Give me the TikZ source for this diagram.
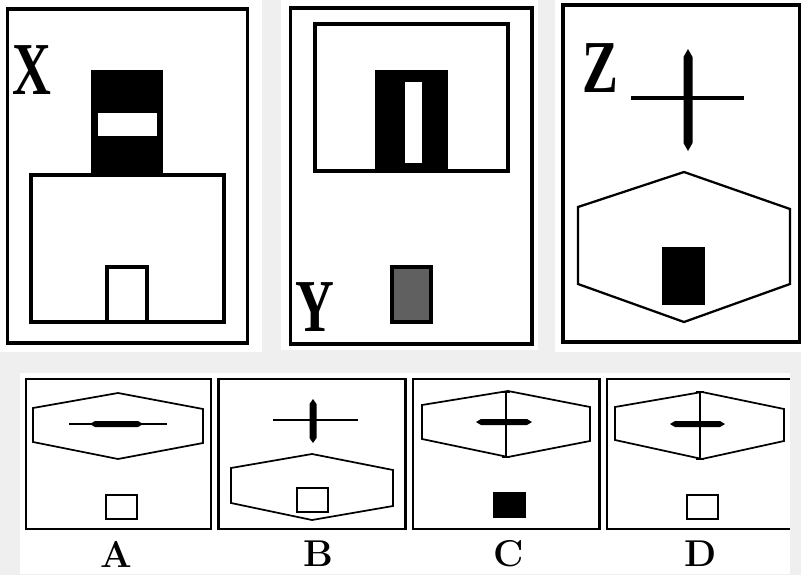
\documentclass[tikz,border=0pt]{standalone}
\usepackage{fontspec}
\newfontfamily\timesfont{Liberation Serif}
\definecolor{bggray}{HTML}{EFEFEF}
\definecolor{boxgray}{HTML}{606060}
\begin{document}
\begin{tikzpicture}[x=0.75pt,y=-0.75pt,
  bigframe/.style={line width=2.4pt,line join=miter},
  inner/.style={line width=2.3pt},
  hexline/.style={line width=1.7pt,line join=miter},
  smallframe/.style={line width=1.8pt},
  thinline/.style={line width=1.3pt},
  bigletter/.style={inner sep=0pt,xscale=0.72,font=\timesfont\bfseries\fontsize{56}{56}\selectfont},
  optletter/.style={inner sep=0pt,font=\bfseries\fontsize{28}{28}\selectfont}]
\useasboundingbox (0,0) rectangle (801,575);
% background
\fill[bggray] (0,0) rectangle (801,575);
\fill[white] (0,0) rectangle (262,352);
\fill[white] (281,0) rectangle (538,350);
\fill[white] (555,0) rectangle (801,352);
\fill[white] (20,373) rectangle (790,574);

% ---------- Panel X ----------
\draw[bigframe] (7.5,9) rectangle (247.5,343);
\draw[inner] (31,175) rectangle (224,322);
\fill (91,70) rectangle (163,176);
\fill[white] (98,113) rectangle (157,136);
\draw[inner] (107,322) -- (107,267) -- (147,267) -- (147,322);
\node[bigletter] (labX) at (31.5,70) {X};

% ---------- Panel Y ----------
\draw[bigframe] (290.5,8) rectangle (532,344);
\draw[inner] (315,24) rectangle (508,171);
\fill (375,70) rectangle (448,171);
\fill[white] (405,82) rectangle (422,163);
\draw[inner,fill=boxgray] (392,267) rectangle (431,322);
\node[bigletter] (labY) at (315,307) {Y};

% ---------- Panel Z ----------
\draw[bigframe] (563,5) rectangle (799.5,342);
\draw[line width=3.2pt] (631,98) -- (744,98);
\fill (688,49) -- (692.5,57) -- (692.5,143) -- (688,151) -- (683.5,143) -- (683.5,57) -- cycle;
\draw[hexline] (684,172) -- (790,209) -- (790,284) -- (684,322) -- (578,284) -- (578,207) -- cycle;
\fill (662,247) rectangle (705,305);
\node[bigletter] (labZ) at (600,68) {Z};

% ---------- Option A ----------
\draw[smallframe] (26,379) rectangle (211,529);
\draw[thinline] (118,393) -- (203,409) -- (203,443) -- (118,459) -- (33,442) -- (33,408) -- cycle;
\draw[thinline] (69,424) -- (167,424);
\fill (90,424) -- (95,421) -- (138,421) -- (143,424) -- (138,427) -- (95,427) -- cycle;
\draw[smallframe] (106,495) rectangle (137,519);
\node[optletter] (labA) at (116,554) {A};

% ---------- Option B ----------
\draw[smallframe] (218.5,379) rectangle (405.5,529);
\draw[thinline] (273,420) -- (358,420);
\fill (313,399) -- (316.5,404) -- (316.5,438) -- (313,443) -- (309.5,438) -- (309.5,404) -- cycle;
\draw[thinline] (312,454) -- (393,470) -- (393,506) -- (312,520) -- (231,503) -- (231,468) -- cycle;
\draw[smallframe] (297,488) rectangle (328,512);
\node[optletter] (labB) at (318,554) {B};

% ---------- Option C ----------
\draw[smallframe] (413,379) rectangle (599.5,529);
\draw[thinline] (508,391) -- (590,407) -- (590,441) -- (508,457) -- (422,439) -- (422,405) -- cycle;
\draw[thinline] (506,392) -- (506,457);
\draw[thinline] (502,392) -- (510,392);
\draw[thinline] (502,457) -- (510,457);
\fill (476,422) -- (481,419) -- (527,419) -- (532,422) -- (527,425) -- (481,425) -- cycle;
\fill (493,492) rectangle (526,518);
\node[optletter] (labC) at (509,554) {C};

% ---------- Option D ----------
\draw[smallframe] (790,379) -- (607,379) -- (607,529) -- (790,529);
\draw[thinline] (702,392) -- (784,409) -- (784,441) -- (702,459) -- (615,440) -- (615,407) -- cycle;
\draw[thinline] (700,392) -- (700,459);
\draw[thinline] (696,392) -- (704,392);
\draw[thinline] (696,459) -- (704,459);
\fill (670,424) -- (675,421) -- (720,421) -- (725,424) -- (720,427) -- (675,427) -- cycle;
\draw[smallframe] (687,495) rectangle (718,519);
\node[optletter] (labD) at (701,554) {D};
\end{tikzpicture}
\end{document}
